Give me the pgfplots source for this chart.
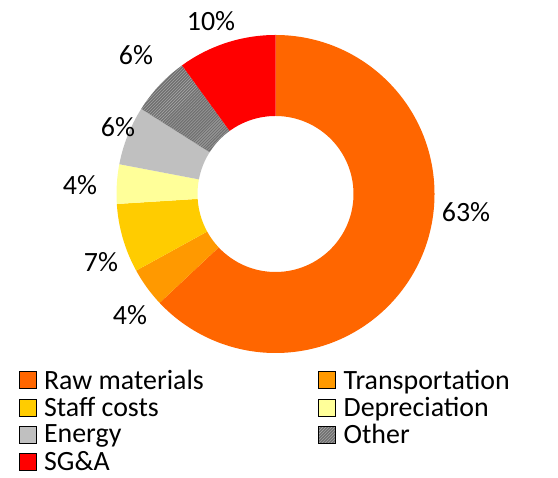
\documentclass[border=0pt]{standalone}
\usepackage{pgfplots}
\pgfplotsset{compat=1.18}
\usepackage{pgfplotstable}
\usetikzlibrary{patterns}
\usepackage{fontspec}
\setmainfont{Carlito}
\definecolor{cRaw}{HTML}{FF6600}
\definecolor{cTra}{HTML}{FF9900}
\definecolor{cSta}{HTML}{FFCC00}
\definecolor{cDep}{HTML}{FFFF99}
\definecolor{cEne}{HTML}{C0C0C0}
\definecolor{cOth}{HTML}{707070}
\definecolor{cOthL}{HTML}{B0B0B0}
\definecolor{cSGA}{HTML}{FF0000}
\tikzset{
  s1/.style={fill=cRaw},
  s2/.style={fill=cTra},
  s3/.style={fill=cSta},
  s4/.style={fill=cDep},
  s5/.style={fill=cEne},
  s6/.style={fill=cOth, postaction={pattern=north east lines, pattern color=cOthL}},
  s7/.style={fill=cSGA},
}
\pgfplotstableread{
id value
1 63
2 4
3 7
4 4
5 6
6 6
7 10
}\costdata
\begin{document}
\begin{tikzpicture}
% cumulative angles, clockwise from the top
\xdef\cum{90}
\foreach \r in {0,...,6}{
  \pgfplotstablegetelem{\r}{value}\of\costdata
  \pgfmathsetmacro\e{\cum-3.6*\pgfplotsretval}
  \pgfmathtruncatemacro\k{\r+1}
  \expandafter\xdef\csname sa\k\endcsname{\cum}
  \expandafter\xdef\csname ea\k\endcsname{\e}
  \xdef\cum{\e}
}
\newcommand\slice[1]{%
  \fill[s#1] (axis cs:275.5,284) ++(\csname sa#1\endcsname:159bp)
    arc[start angle=\csname sa#1\endcsname, end angle=\csname ea#1\endcsname, radius=159bp]
    -- ([shift={(\csname ea#1\endcsname:78bp)}]axis cs:275.5,284)
    arc[start angle=\csname ea#1\endcsname, end angle=\csname sa#1\endcsname, radius=78bp]
    -- cycle;}
\begin{axis}[
  x=1bp, y=1bp, xmin=0, xmax=558, ymin=0, ymax=478,
  hide axis, clip=false,
  legend image code/.code={\fill[#1] (0bp,-8.5bp) rectangle (17bp,8.5bp); \path (23.5bp,0bp);},
  legend columns=2,
  legend cell align=left,
  legend style={at={(axis cs:18.5,110)}, anchor=north west, draw=none, fill=none,
    inner sep=0pt, row sep=3.5bp,
    font=\fontsize{28}{29}\selectfont,
    /tikz/column 2/.style={column sep=113bp},
    nodes={inner sep=1.5bp}},
]
\path (axis cs:0,0) rectangle (axis cs:558,478);
\slice{1}\slice{2}\slice{3}\slice{4}\slice{5}\slice{6}\slice{7}
\addlegendimage{s1}\addlegendentry{Raw materials}
\addlegendimage{s2}\addlegendentry{Transportation}
\addlegendimage{s3}\addlegendentry{Staff costs}
\addlegendimage{s4}\addlegendentry{Depreciation}
\addlegendimage{s5}\addlegendentry{Energy}
\addlegendimage{s6}\addlegendentry{Other}
\addlegendimage{s7}\addlegendentry{SG\&A}
\begin{scope}[every node/.style={font=\fontsize{28}{29}\selectfont}]
\node at (axis cs:466,266) {63\%};
\node at (axis cs:130,163) {4\%};
\node at (axis cs:101,216) {7\%};
\node at (axis cs:80,293) {4\%};
\node at (axis cs:118,351) {6\%};
\node at (axis cs:136,423) {6\%};
\node at (axis cs:211,457) {10\%};
\end{scope}
\end{axis}
\end{tikzpicture}
\end{document}
